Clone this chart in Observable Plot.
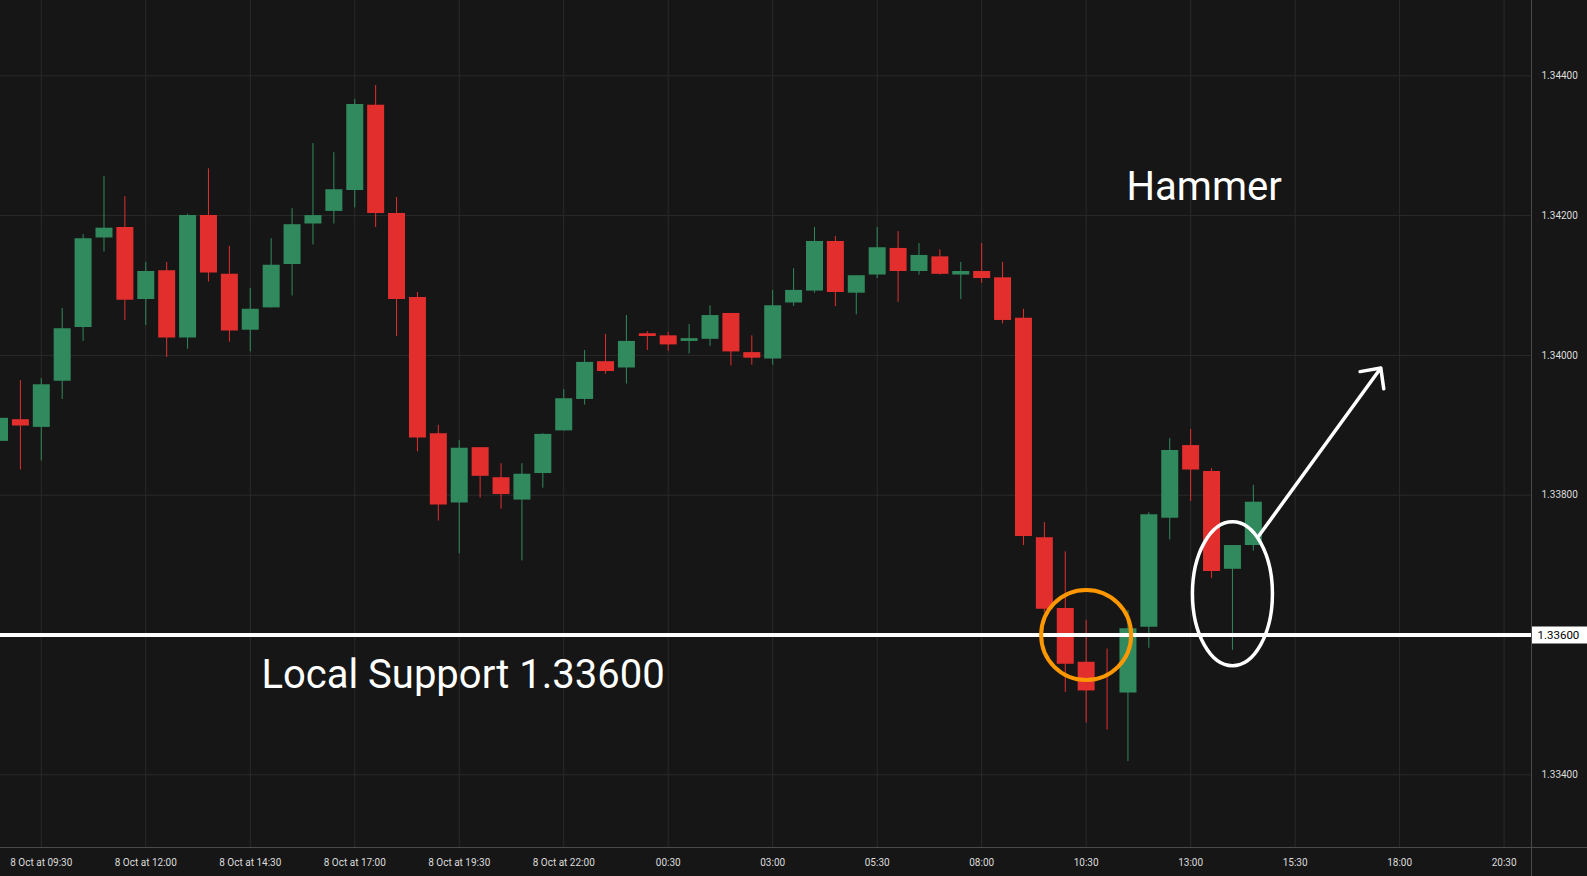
<!DOCTYPE html>
<html><head><meta charset="utf-8">
<script src="https://cdn.jsdelivr.net/npm/d3@7"></script>
<script src="https://cdn.jsdelivr.net/npm/@observablehq/plot@0.6"></script>
<style>html,body{margin:0;padding:0;background:#161616;overflow:hidden}</style>
</head><body><div id="chart"></div>
<script>
// ---- data (30-minute candles) ----
const times = [
"2024-10-08T08:30","2024-10-08T09:00","2024-10-08T09:30","2024-10-08T10:00","2024-10-08T10:30","2024-10-08T11:00",
"2024-10-08T11:30","2024-10-08T12:00","2024-10-08T12:30","2024-10-08T13:00","2024-10-08T13:30","2024-10-08T14:00",
"2024-10-08T14:30","2024-10-08T15:00","2024-10-08T15:30","2024-10-08T16:00","2024-10-08T16:30","2024-10-08T17:00",
"2024-10-08T17:30","2024-10-08T18:00","2024-10-08T18:30","2024-10-08T19:00","2024-10-08T19:30","2024-10-08T20:00",
"2024-10-08T20:30","2024-10-08T21:00","2024-10-08T21:30","2024-10-08T22:00","2024-10-08T22:30","2024-10-08T23:00",
"2024-10-08T23:30","2024-10-09T00:00","2024-10-09T00:30","2024-10-09T01:00","2024-10-09T01:30","2024-10-09T02:00",
"2024-10-09T02:30","2024-10-09T03:00","2024-10-09T03:30","2024-10-09T04:00","2024-10-09T04:30","2024-10-09T05:00",
"2024-10-09T05:30","2024-10-09T06:00","2024-10-09T06:30","2024-10-09T07:00","2024-10-09T07:30","2024-10-09T08:00",
"2024-10-09T08:30","2024-10-09T09:00","2024-10-09T09:30","2024-10-09T10:00","2024-10-09T10:30","2024-10-09T11:00",
"2024-10-09T11:30","2024-10-09T12:00","2024-10-09T12:30","2024-10-09T13:00","2024-10-09T13:30","2024-10-09T14:00",
"2024-10-09T14:30"];
const open = [
1.33877,1.33908,1.33897,1.33963,1.34040,1.34168,1.34183,1.34080,1.34121,1.34025,
1.34200,1.34116,1.34036,1.34068,1.34130,1.34188,1.34206,1.34236,1.34358,1.34203,
1.34083,1.33888,1.33789,1.33868,1.33825,1.33793,1.33831,1.33892,1.33937,1.33991,
1.33982,1.34031,1.34028,1.34020,1.34023,1.34060,1.34004,1.33995,1.34075,1.34092,
1.34163,1.34089,1.34115,1.34153,1.34120,1.34141,1.34115,1.34120,1.34111,1.34053,
1.33739,1.33638,1.33561,1.33520,1.33517,1.33611,1.33767,1.33871,1.33834,1.33694,1.33728];
const close = [
1.33910,1.33899,1.33958,1.34038,1.34167,1.34182,1.34079,1.34120,1.34025,1.34200,
1.34118,1.34035,1.34066,1.34129,1.34187,1.34200,1.34237,1.34359,1.34203,1.34080,
1.33882,1.33786,1.33867,1.33827,1.33801,1.33830,1.33887,1.33938,1.33990,1.33977,
1.34020,1.34027,1.34015,1.34024,1.34057,1.34005,1.33996,1.34071,1.34093,1.34163,
1.34090,1.34114,1.34154,1.34120,1.34143,1.34116,1.34120,1.34110,1.34050,1.33741,
1.33637,1.33558,1.33520,1.33520,1.33609,1.33772,1.33864,1.33836,1.33691,1.33728,1.33790];
const high = [
1.33914,1.33964,1.33967,1.34067,1.34173,1.34256,1.34227,1.34133,1.34133,1.34202,
1.34267,1.34156,1.34096,1.34167,1.34210,1.34303,1.34290,1.34366,1.34386,1.34226,
1.34090,1.33900,1.33878,1.33868,1.33845,1.33845,1.33888,1.33951,1.34007,1.34030,
1.34057,1.34034,1.34033,1.34044,1.34071,1.34060,1.34028,1.34093,1.34124,1.34183,
1.34170,1.34114,1.34183,1.34177,1.34160,1.34151,1.34133,1.34160,1.34133,1.34066,
1.33761,1.33719,1.33621,1.33580,1.33635,1.33775,1.33881,1.33894,1.33838,1.33728,1.33814];
const low = [
1.33871,1.33836,1.33849,1.33937,1.34020,1.34148,1.34050,1.34043,1.33997,1.34009,
1.34105,1.34019,1.34005,1.34068,1.34085,1.34158,1.34188,1.34211,1.34183,1.34027,
1.33862,1.33763,1.33716,1.33796,1.33780,1.33706,1.33810,1.33892,1.33929,1.33973,
1.33959,1.34007,1.34006,1.34002,1.34013,1.33985,1.33986,1.33986,1.34070,1.34089,
1.34070,1.34058,1.34110,1.34076,1.34115,1.34115,1.34080,1.34103,1.34045,1.33728,
1.33632,1.33518,1.33474,1.33464,1.33419,1.33581,1.33736,1.33791,1.33681,1.33578,1.33720];

const xTickTimes = ["2024-10-08T09:30","2024-10-08T12:00","2024-10-08T14:30","2024-10-08T17:00","2024-10-08T19:30",
"2024-10-08T22:00","2024-10-09T00:30","2024-10-09T03:00","2024-10-09T05:30","2024-10-09T08:00","2024-10-09T10:30",
"2024-10-09T13:00","2024-10-09T15:30","2024-10-09T18:00","2024-10-09T20:30"];
const xTickLabels = ["8 Oct at 09:30","8 Oct at 12:00","8 Oct at 14:30","8 Oct at 17:00","8 Oct at 19:30",
"8 Oct at 22:00","00:30","03:00","05:30","08:00","10:30","13:00","15:30","18:00","20:30"];
const yTicks = [1.334, 1.338, 1.340, 1.342, 1.344];
const yGrid = [1.334, 1.336, 1.338, 1.340, 1.342, 1.344];

const supportLevel = 1.336;
const supportTag = "1.33600";
const supportText = "Local Support 1.33600";
const hammerText = "Hammer";
const orangeCircle = [{t: "2024-10-09T10:30", p: 1.33600}];
const hammerEllipse = [{t: "2024-10-09T14:00", p: 1.33659}];
const arrowPts = [{t1: "2024-10-09T14:38", p1: 1.33742, t2: "2024-10-09T17:33", p2: 1.33982}];
const hammerLabelPos = [{t: "2024-10-09T11:28", p: 1.34240}];
const supportLabelPos = [{t: "2024-10-08T14:46", p: 1.33542}];

// ---- build ----
const parse = d3.utcParse("%Y-%m-%dT%H:%M");
const GREEN = "#318a5e", RED = "#e32e2e";
const candles = times.map((t, i) => ({
  time: parse(t), open: open[i], close: close[i], high: high[i], low: low[i],
  color: close[i] > open[i] ? GREEN : RED
}));
const xTickDates = xTickTimes.map(parse);

const ellipseSymbol = {draw(ctx) {
  const rx = 40, ry = 72, k = 0.5523;
  ctx.moveTo(rx, 0);
  ctx.bezierCurveTo(rx, ry * k, rx * k, ry, 0, ry);
  ctx.bezierCurveTo(-rx * k, ry, -rx, ry * k, -rx, 0);
  ctx.bezierCurveTo(-rx, -ry * k, -rx * k, -ry, 0, -ry);
  ctx.bezierCurveTo(rx * k, -ry, rx, -ry * k, rx, 0);
  ctx.closePath();
}};
const tagSymbol = {draw(ctx) { ctx.rect(0, -8.5, 56, 17); }};

const xStart = new Date(Date.UTC(2024, 9, 8, 8, 31, 26));
const xEnd = new Date(Date.UTC(2024, 9, 9, 21, 9, 20));

const chart = Plot.plot({
  width: 1587, height: 876,
  marginLeft: 0, marginRight: 56, marginTop: 0, marginBottom: 29,
  style: {background: "#161616", fontFamily: "Roboto", fontSize: "10px", color: "#dcdcdc"},
  x: {type: "utc", domain: [xStart, xEnd]},
  y: {domain: [1.332960, 1.3450773]},
  color: {type: "identity"},
  marks: [
    Plot.gridX(xTickDates, {stroke: "#2a2a2a", strokeOpacity: 1}),
    Plot.gridY(yGrid, {stroke: "#2a2a2a", strokeOpacity: 1}),
    Plot.ruleX(candles, {x: "time", y1: "low", y2: "high", stroke: "color", strokeWidth: 1}),
    Plot.ruleX(candles, {x: "time", y1: "open", y2: "close", stroke: "color", strokeWidth: 17}),
    Plot.ruleY([supportLevel], {stroke: "#ffffff", strokeWidth: 4}),
    Plot.dot(orangeCircle, {x: d => parse(d.t), y: "p", r: 45, stroke: "#ff9800", strokeWidth: 4, fill: "none"}),
    Plot.dot(hammerEllipse, {x: d => parse(d.t), y: "p", symbol: ellipseSymbol, stroke: "#ffffff", strokeWidth: 3.5, fill: "none"}),
    Plot.arrow(arrowPts, {x1: d => parse(d.t1), y1: "p1", x2: d => parse(d.t2), y2: "p2",
      stroke: "#ffffff", strokeWidth: 3.5, headLength: 9, headAngle: 88}),
    Plot.text(hammerLabelPos, {x: d => parse(d.t), y: "p", text: () => hammerText, textAnchor: "start",
      fill: "#ffffff", fontSize: 40, fontFamily: "Roboto"}),
    Plot.text(supportLabelPos, {x: d => parse(d.t), y: "p", text: () => supportText, textAnchor: "start",
      fill: "#ffffff", fontSize: 40, fontFamily: "Roboto"}),
    Plot.axisX(xTickDates, {tickSize: 0, tickPadding: 11, tickFormat: (d, i) => xTickLabels[i], fill: "#dcdcdc", label: null}),
    Plot.axisY(yTicks, {anchor: "right", tickSize: 0, tickPadding: 10, tickFormat: d => d.toFixed(5), fill: "#dcdcdc", label: null}),
    Plot.dot([supportLevel], {y: d => d, frameAnchor: "right", symbol: tagSymbol, fill: "#ffffff", stroke: null}),
    Plot.text([supportTag], {y: () => supportLevel, frameAnchor: "right", dx: 6, textAnchor: "start", fill: "#000000", fontSize: 11.5})
  ]
});

const svg = d3.select(chart);
svg.append("line").attr("x1", 1531.5).attr("x2", 1531.5).attr("y1", 0).attr("y2", 876).attr("stroke", "#4a4a4a");
svg.append("line").attr("x1", 0).attr("x2", 1587).attr("y1", 847.5).attr("y2", 847.5).attr("stroke", "#4a4a4a");
document.getElementById("chart").appendChild(chart);
</script></body></html>
